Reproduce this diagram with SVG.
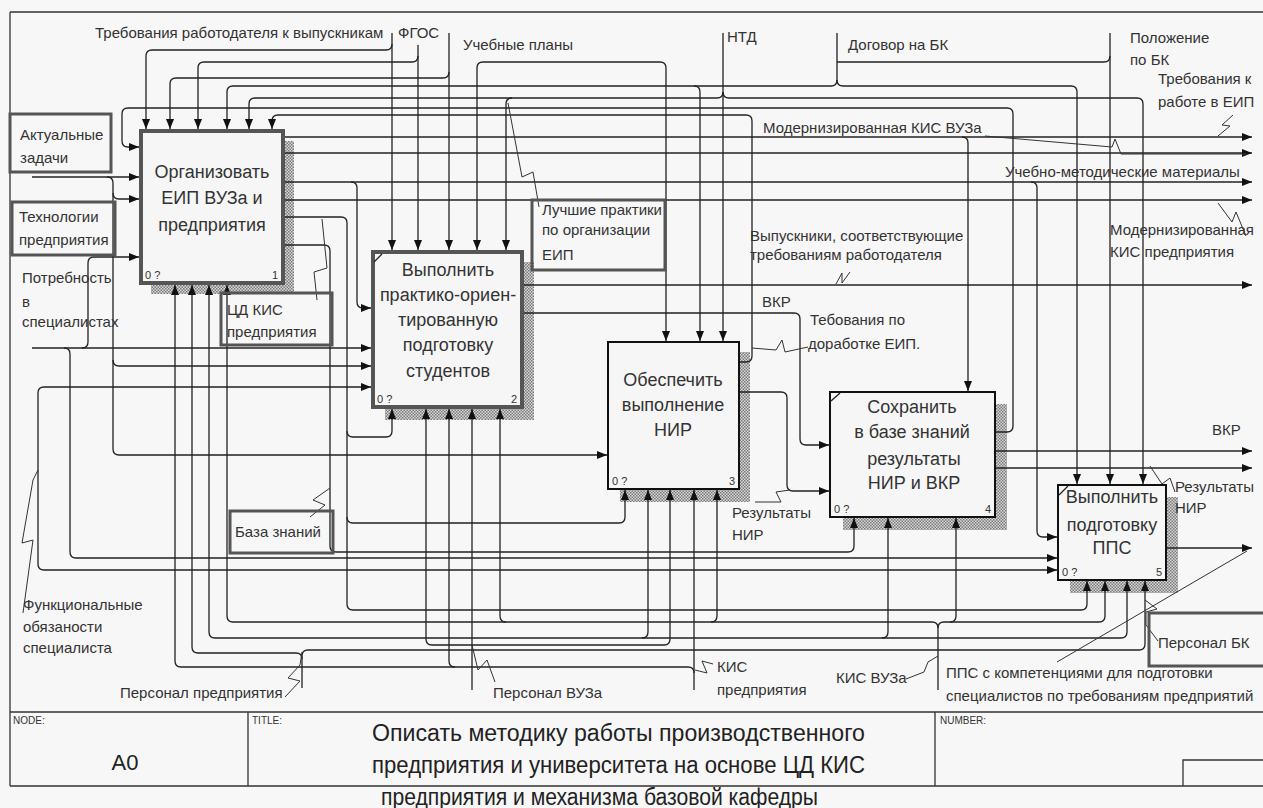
<svg xmlns="http://www.w3.org/2000/svg" width="1263" height="808" viewBox="0 0 1263 808">
<style>
.c{fill:none;stroke:#222;stroke-width:1.3}
.a{marker-end:url(#ah)}
.sq{fill:none;stroke:#333;stroke-width:1}
.t{font-family:"Liberation Sans",Arial,sans-serif;font-size:15px;fill:#333}
.bt{font-family:"Liberation Sans",Arial,sans-serif;font-size:18px;fill:#333;text-anchor:middle}
.n{font-family:"Liberation Sans",Arial,sans-serif;font-size:11px;fill:#333}
.box{fill:#f6f6f6;stroke:#111;stroke-width:2}
.tbox{fill:#f6f6f6;stroke:#555;stroke-width:4}
.lb{fill:none;stroke:#555;stroke-width:3}
.sh{fill:url(#hatch)}
.fr{fill:none;stroke:#333;stroke-width:1.3}
.tt{font-family:"Liberation Sans",Arial,sans-serif;font-size:23px;fill:#222}
.sm{font-family:"Liberation Sans",Arial,sans-serif;font-size:10px;fill:#333}
</style>
<defs>
<marker id="ah" markerWidth="10" markerHeight="8" refX="10" refY="4" orient="auto" markerUnits="userSpaceOnUse"><path d="M0,0 L10,4 L0,8 z" fill="#111"/></marker>
<pattern id="hatch" width="3" height="3" patternUnits="userSpaceOnUse"><rect width="3" height="3" fill="#d8d8d8"/><rect width="1.5" height="1.5" fill="#7a7a7a"/><rect x="1.5" y="1.5" width="1.5" height="1.5" fill="#7a7a7a"/></pattern>
</defs>
<rect width="1263" height="808" fill="#f7f7f7"/>
<g id="frame">
<path class="fr" d="M10,12 H1263 M10,12 V786 M10,712 H1263 M10,786 H1263 M248,712 V786 M935,712 V786 M1183,786 V760 H1263"/>
<text class="sm" x="13" y="724">NODE:</text>
<text class="sm" x="252" y="724">TITLE:</text>
<text class="sm" x="940" y="724">NUMBER:</text>
<text x="125" y="770" font-family="Liberation Sans, Arial, sans-serif" font-size="22" fill="#222" text-anchor="middle">A0</text>
<text class="tt" x="372" y="741" textLength="493" lengthAdjust="spacingAndGlyphs">Описать методику работы  производственного</text>
<text class="tt" x="372" y="773" textLength="493" lengthAdjust="spacingAndGlyphs">предприятия и университета  на основе ЦД КИС</text>
<text class="tt" x="381" y="805" textLength="437" lengthAdjust="spacingAndGlyphs">предприятия  и механизма  базовой кафедры</text>
</g>
<g id="shadows">
<rect class="sh" x="283" y="141" width="11" height="153"/><rect class="sh" x="151" y="283" width="143" height="11"/>
<rect class="sh" x="522" y="262" width="12" height="158"/><rect class="sh" x="385" y="407" width="149" height="13"/>
<rect class="sh" x="739" y="352" width="11" height="150"/><rect class="sh" x="620" y="489" width="130" height="13"/>
<rect class="sh" x="995" y="404" width="12" height="126"/><rect class="sh" x="843" y="517" width="164" height="13"/>
<rect class="sh" x="1166" y="497" width="12" height="96"/><rect class="sh" x="1070" y="580" width="108" height="13"/>
</g>
<g id="connectors">
<path class="c a" d="M392,33 V250"/>
<path class="c a" d="M392,44 Q392,50 386,50 H152 Q146,50 146,56 V129"/>
<path class="c a" d="M449,33 V250"/>
<path class="c a" d="M449,72 Q449,78 443,78 H176 Q170,78 170,84 V129"/>
<path class="c a" d="M418,45 V250"/>
<path class="c a" d="M418,56 Q418,62 412,62 H204 Q198,62 198,68 V129"/>
<path class="c a" d="M572,62 H483 Q477,62 477,68 V250"/>
<path class="c a" d="M572,62 H660 Q666,62 666,68 V341"/>
<path class="c a" d="M837,33 V80 Q837,86 831,86 H233 Q227,86 227,92 V129"/>
<path class="c a" d="M837,80 Q837,86 843,86 H1071 Q1077,86 1077,92 V484"/>
<path class="c a" d="M694,86 Q700,86 700,92 V341"/>
<path class="c a" d="M723,33 V341"/>
<path class="c a" d="M723,92 Q723,98 717,98 H255 Q249,98 249,104 V129"/>
<path class="c a" d="M723,92 Q723,98 729,98 H1137 Q1143,98 1143,104 V484"/>
<path class="c a" d="M512,98 Q506,98 506,104 V250"/>
<path class="c a" d="M1110,33 V484"/>
<path class="c" d="M1110,56 Q1110,62 1104,62 H837"/>
<path class="c a" d="M995,432 H1007 Q1013,432 1013,426 V114 Q1013,108 1007,108 H128 Q122,108 122,114 V141 Q122,147 128,147 H139"/>
<path class="c a" d="M740,362 H746 Q752,362 752,356 V121 Q752,115 746,115 H278 Q272,115 272,121 V129"/>
<path class="c a" d="M283,137 H1252"/>
<path class="c a" d="M962,137 Q968,137 968,143 V391"/>
<path class="c a" d="M283,153 H1252"/>
<path class="c a" d="M283,182 H1252"/>
<path class="c a" d="M351,182 Q357,182 357,188 V302 Q357,308 363,308 H371"/>
<path class="c a" d="M1031,182 Q1037,182 1037,188 V531 Q1037,537 1043,537 H1057"/>
<path class="c a" d="M283,200 H1252"/>
<path class="c a" d="M283,217 H341 Q347,217 347,223 V604 Q347,610 353,610 H1081 Q1087,610 1087,604 V581"/>
<path class="c a" d="M347,431 Q347,437 353,437 H386 Q392,437 392,431 V409"/>
<path class="c a" d="M347,517 Q347,523 353,523 H619 Q625,523 625,517 V490"/>
<path class="c a" d="M283,245 H324 Q330,245 330,251 V546 Q330,552 336,552 H848 Q854,552 854,546 V518"/>
<path class="c a" d="M32,177 H139"/>
<path class="c a" d="M107,177 Q113,177 113,183 V449 Q113,455 119,455 H607"/>
<path class="c a" d="M113,193 Q113,199 119,199 H139"/>
<path class="c a" d="M113,360 Q113,366 119,366 H371"/>
<path class="c a" d="M32,348 H371"/>
<path class="c a" d="M82,348 Q88,348 88,342 V263 Q88,257 94,257 H139"/>
<path class="c a" d="M64,348 Q70,348 70,354 V552 Q70,558 76,558 H1057"/>
<path class="c a" d="M38,470 V393 Q38,387 44,387 H371"/>
<path class="c a" d="M38,470 V564 Q38,570 44,570 H1057"/>
<path class="c a" d="M523,285 H1252"/>
<path class="c a" d="M523,313 H794 Q800,313 800,319 V439 Q800,445 806,445 H829"/>
<path class="c a" d="M740,392 H781 Q787,392 787,398 V485 Q787,491 793,491 H829"/>
<path class="c a" d="M996,451 H1252"/>
<path class="c a" d="M996,468 H1252"/>
<path class="c a" d="M1167,548 H1252"/>
<path class="c a" d="M938,690 V628 Q938,622 932,622 H233 Q227,622 227,616 V285"/>
<path class="c a" d="M938,628 Q938,622 944,622 H1099 Q1105,622 1105,616 V581"/>
<path class="c a" d="M506,622 Q500,622 500,616 V409"/>
<path class="c a" d="M711,622 Q717,622 717,616 V490"/>
<path class="c a" d="M950,622 Q956,622 956,616 V518"/>
<path class="c a" d="M648,638 H215 Q209,638 209,632 V285"/>
<path class="c a" d="M642,638 Q648,638 648,632 V490"/>
<path class="c a" d="M648,638 H882 Q888,638 888,632 V518"/>
<path class="c a" d="M882,638 H1121 Q1127,638 1127,632 V581"/>
<path class="c a" d="M472,690 V409"/>
<path class="c a" d="M472,645 H432 Q426,645 426,639 V409"/>
<path class="c a" d="M472,645 H664 Q670,645 670,639 V490"/>
<path class="c a" d="M302,688 V656 Q302,650 308,650 H1139 Q1145,650 1145,644 V581"/>
<path class="c a" d="M302,659 Q302,653 296,653 H198 Q192,653 192,647 V285"/>
<path class="c a" d="M694,690 V490"/>
<path class="c a" d="M694,673 Q694,667 688,667 H181 Q175,667 175,661 V285"/>
<path class="c a" d="M455,667 Q449,667 449,661 V409"/>
<path class="sq" d="M508,103 L522,177 L533,172 L539,207"/>
<path class="sq" d="M322,219 L327,268 L314,272 L317,300"/>
<path class="sq" d="M310,517 L325,505 L313,500 L330,488"/>
<path class="sq" d="M836,284 L842,273 L842,283 L850,272"/>
<path class="sq" d="M752,348 L776,350 L782,340 L785,352 L808,347"/>
<path class="sq" d="M755,502 L781,502 L776,492 L790,490"/>
<path class="sq" d="M985,136 L1112,147 L1115,139 L1121,154 L1247,154"/>
<path class="sq" d="M1218,136 L1230,126 L1222,125 L1233,115"/>
<path class="sq" d="M1218,203 L1232,222 L1236,212 L1246,236"/>
<path class="sq" d="M1150,466 L1162,484 L1170,478 L1175,492"/>
<path class="sq" d="M1057,662 L1247,551"/>
<path class="sq" d="M1158,641 L1146,625 L1146,612 L1157,609 L1145,600"/>
<path class="sq" d="M713,664 L702,661 L707,673 L695,670"/>
<path class="sq" d="M495,682 L487,660 L478,670 L472,645"/>
<path class="sq" d="M285,697 L300,681 L288,678 L300,665 L302,652"/>
<path class="sq" d="M906,679 L924,672 L928,662 L938,656"/>
<path class="sq" d="M23,613 L33,540 L22,543 L33,480 L38,470"/>
</g>
<g id="box1">
<rect class="tbox" x="141" y="131" width="142" height="152"/>
<text class="bt" x="212" y="178">Организовать</text>
<text class="bt" x="212" y="204">ЕИП ВУЗа и</text>
<text class="bt" x="212" y="231">предприятия</text>
<text class="n" x="145" y="279">0 ?</text><text class="n" x="272" y="279">1</text>
</g>
<g id="box2">
<rect class="tbox" x="373" y="252" width="149" height="155"/>
<path class="c" d="M374,262 L382,254"/>
<text class="bt" x="448" y="276">Выполнить</text>
<text class="bt" x="448" y="301">практико-ориен-</text>
<text class="bt" x="448" y="326">тированную</text>
<text class="bt" x="448" y="351">подготовку</text>
<text class="bt" x="448" y="377">студентов</text>
<text class="n" x="377" y="403">0 ?</text><text class="n" x="511" y="403">2</text>
</g>
<g id="box3">
<rect class="box" x="608" y="342" width="131" height="147"/>
<text class="bt" x="673" y="386">Обеспечить</text>
<text class="bt" x="673" y="411">выполнение</text>
<text class="bt" x="673" y="436">НИР</text>
<text class="n" x="612" y="485">0 ?</text><text class="n" x="729" y="485">3</text>
</g>
<g id="box4">
<rect class="box" x="830" y="392" width="165" height="125"/>
<path class="c" d="M831,401 L840,393"/>
<text class="bt" x="912" y="413">Сохранить</text>
<text class="bt" x="912" y="438">в базе знаний</text>
<text class="bt" x="914" y="465">результаты</text>
<text class="bt" x="914" y="489">НИР и ВКР</text>
<text class="n" x="834" y="513">0 ?</text><text class="n" x="985" y="513">4</text>
</g>
<g id="box5">
<rect class="box" x="1058" y="485" width="108" height="95"/>
<path class="c" d="M1059,495 L1068,486"/>
<text class="bt" x="1112" y="503">Выполнить</text>
<text class="bt" x="1112" y="531">подготовку</text>
<text class="bt" x="1112" y="554">ППС</text>
<text class="n" x="1062" y="576">0 ?</text><text class="n" x="1156" y="576">5</text>
</g>
<g id="lbl-aktual"><rect class="lb" x="10" y="114" width="101" height="58"/><text class="t" x="20" y="140">Актуальные</text><text class="t" x="20" y="163">задачи</text></g>
<g id="lbl-tech"><rect class="lb" x="12" y="202" width="103" height="53"/><text class="t" x="19" y="222">Технологии</text><text class="t" x="19" y="245">предприятия</text></g>
<g id="lbl-cdkis"><rect class="lb" x="221" y="293" width="111" height="52"/><text class="t" x="227" y="315">ЦД КИС</text><text class="t" x="227" y="337">предприятия</text></g>
<g id="lbl-best"><rect class="lb" x="532" y="200" width="133" height="70"/><text class="t" x="542" y="215">Лучшие практики</text><text class="t" x="542" y="235">по организации</text><text class="t" x="542" y="260">ЕИП</text></g>
<g id="lbl-kb"><rect class="lb" x="230" y="511" width="103" height="42"/><text class="t" x="235" y="537">База знаний</text></g>
<g id="lbl-pbk"><rect class="lb" x="1149" y="613" width="116" height="53"/><text class="t" x="1158" y="648">Персонал БК</text></g>
<g id="labels">
<text class="t" x="95" y="38">Требования работодателя к выпускникам</text>
<text class="t" x="398" y="38">ФГОС</text>
<text class="t" x="463" y="50">Учебные планы</text>
<text class="t" x="727" y="42">НТД</text>
<text class="t" x="848" y="50">Договор на БК</text>
<text class="t" x="1130" y="43">Положение</text>
<text class="t" x="1130" y="65">по БК</text>
<text class="t" x="1158" y="84">Требования к</text>
<text class="t" x="1158" y="107">работе в ЕИП</text>
<text class="t" x="763" y="133">Модернизированная КИС ВУЗа</text>
<text class="t" x="1005" y="177">Учебно-методические материалы</text>
<text class="t" x="1110" y="235">Модернизированная</text>
<text class="t" x="1110" y="257">КИС предприятия</text>
<text class="t" x="750" y="241">Выпускники, соответствующие</text>
<text class="t" x="750" y="260">требованиям работодателя</text>
<text class="t" x="762" y="307">ВКР</text>
<text class="t" x="810" y="325">Тебования по</text>
<text class="t" x="808" y="349">доработке ЕИП.</text>
<text class="t" x="1212" y="435">ВКР</text>
<text class="t" x="1175" y="492">Результаты</text>
<text class="t" x="1175" y="513">НИР</text>
<text class="t" x="732" y="518">Результаты</text>
<text class="t" x="732" y="540">НИР</text>
<text class="t" x="22" y="283">Потребность</text>
<text class="t" x="22" y="307">в</text>
<text class="t" x="22" y="327">специалистах</text>
<text class="t" x="23" y="610">Функциональные</text>
<text class="t" x="23" y="632">обязаности</text>
<text class="t" x="23" y="653">специалиста</text>
<text class="t" x="120" y="698">Персонал предприятия</text>
<text class="t" x="493" y="698">Персонал ВУЗа</text>
<text class="t" x="717" y="672">КИС</text>
<text class="t" x="717" y="695">предприятия</text>
<text class="t" x="836" y="683">КИС ВУЗа</text>
<text class="t" x="946" y="678">ППС с компетенциями для подготовки</text>
<text class="t" x="946" y="701">специалистов по требованиям предприятий</text>
</g>
</svg>
